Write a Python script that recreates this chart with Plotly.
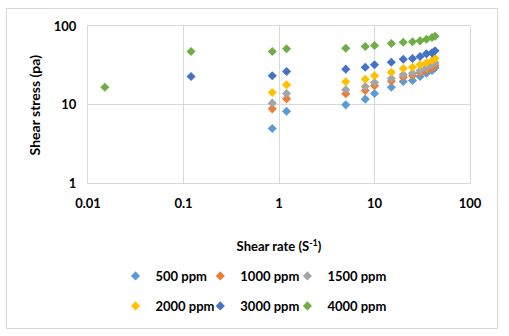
import plotly.graph_objects as go

# shear rate (1/s) readings
rate_low = [0.85, 1.2, 5, 8, 10, 15, 20, 25, 30, 35, 40, 43]
rate_3000 = [0.12] + rate_low
rate_4000 = [0.015, 0.12] + rate_low

# shear stress (pa)
stress_500 = [4.95, 8.2, 9.9, 11.7, 13.8, 16.6, 19.6, 20.2, 22.7, 25.1, 27.1, 29.3]
stress_1000 = [8.8, 11.8, 13.7, 15.1, 17.3, 19.8, 22.3, 23.2, 25.4, 27.1, 29.3, 31.4]
stress_1500 = [10.4, 13.8, 15.4, 16.9, 19.1, 21.4, 24.0, 25.1, 27.1, 29.3, 32.1, 34.0]
stress_2000 = [14.2, 17.8, 19.5, 21.0, 23.2, 25.8, 28.7, 29.8, 32.1, 34.0, 36.4, 38.9]
stress_3000 = [22.7, 23.2, 26.3, 28.2, 29.8, 32.1, 34.6, 37.7, 38.5, 40.8, 44.2, 45.5, 48.3]
stress_4000 = [16.6, 47.3, 47.3, 51.3, 52.1, 54.8, 56.5, 59.8, 62.2, 63.0, 64.7, 67.9, 71.3, 74.0]

series = [
    ("500 ppm", rate_low, stress_500, "#5B9BD5"),
    ("1000 ppm", rate_low, stress_1000, "#ED7D31"),
    ("1500 ppm", rate_low, stress_1500, "#A5A5A5"),
    ("2000 ppm", rate_low, stress_2000, "#FFC000"),
    ("3000 ppm", rate_3000, stress_3000, "#4472C4"),
    ("4000 ppm", rate_4000, stress_4000, "#70AD47"),
]

fnt = dict(family="Lato", size=13, color="#000000", weight="bold")

# one small legend per series, laid out 3 x 2 like the original
leg_x = [0.072, 0.294, 0.522]
leg_y = [-0.592, -0.783]

fig = go.Figure()
legends = {}
for i, (name, xs, ys, col) in enumerate(series):
    key = "legend" if i == 0 else "legend%d" % (i + 1)
    fig.add_trace(go.Scatter(x=xs, y=ys, mode="markers", name=name, legend=key,
                             showlegend=True,
                             marker=dict(symbol="diamond", size=7, color=col)))
    legends[key] = dict(x=leg_x[i % 3], y=leg_y[i // 3], font=fnt, bgcolor="rgba(0,0,0,0)",
                        orientation="h", itemwidth=30, xanchor="left", yanchor="middle")

axis_common = dict(type="log", showgrid=True, gridcolor="#d9d9d9", gridwidth=1,
                   showline=True, linecolor="#d9d9d9", mirror=True, zeroline=False,
                   ticks="", tickfont=fnt, dtick=1, tickformat="~g")

fig.update_layout(
    width=509, height=336,
    margin=dict(l=88, r=39, t=26, b=153),
    paper_bgcolor="white", plot_bgcolor="white",
    font=fnt, showlegend=True,
    xaxis=dict(range=[-2, 2], ticklabelstandoff=8,
               title=dict(text="Shear rate (S<sup>-1</sup>)", font=fnt, standoff=32),
               **axis_common),
    yaxis=dict(range=[0, 2], ticklabelstandoff=8, **axis_common),
    annotations=[dict(text="Shear stress (pa)", textangle=-90, xref="paper", yref="paper",
                      x=-0.139, y=0.5, xanchor="center", yanchor="middle",
                      showarrow=False, font=dict(fnt, size=14))],
    **legends,
)

# outer chart frame (plotly paper shapes did not show up outside the plot area)
frame_js = """
document.body.style.margin = '0';
setTimeout(function () {
  var svg = document.querySelector('.main-svg');
  if (!svg) return;
  var r = document.createElementNS('http://www.w3.org/2000/svg', 'rect');
  r.setAttribute('x', 6.5); r.setAttribute('y', 8.5);
  r.setAttribute('width', 491); r.setAttribute('height', 320);
  r.setAttribute('fill', 'none'); r.setAttribute('stroke', '#d9d9d9');
  svg.appendChild(r);
}, 0);
"""

fig.write_html("out.html", config={"displayModeBar": False}, post_script=frame_js)
